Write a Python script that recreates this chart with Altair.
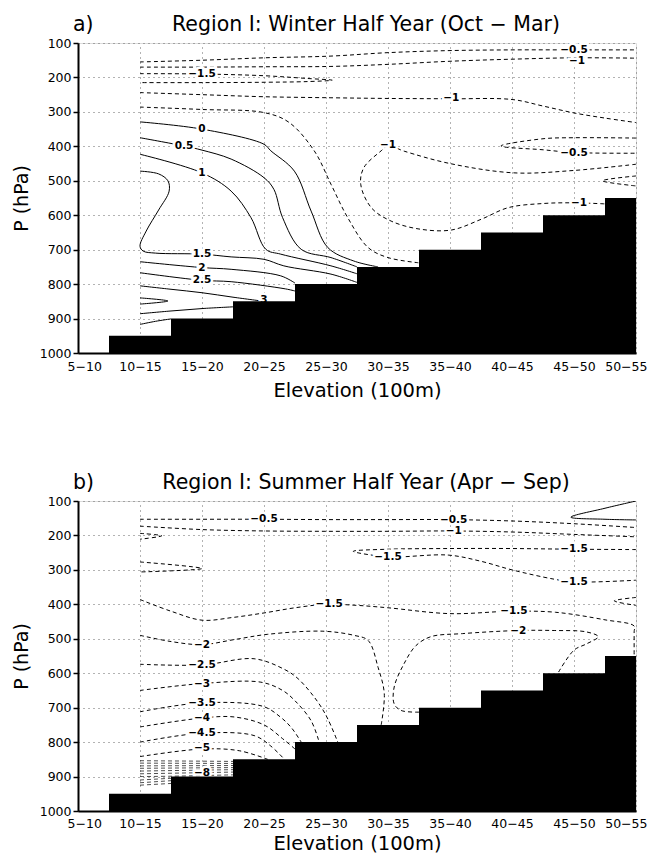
import json
import altair as alt
import pandas as pd

# ---------------- data ----------------
categories = ["5−10", "10−15", "15−20", "20−25", "25−30",
              "30−35", "35−40", "40−45", "45−50", "50−55"]
terrain_top = [1000, 950, 900, 850, 800, 750, 700, 650, 600, 550]
pressure_ticks = [100, 200, 300, 400, 500, 600, 700, 800, 900, 1000]

# contour lines: (id, value, points as (elevation index, hPa))
winter_solid = [
    ("w0", "0", [(1, 329), (2, 350), (3, 394), (3.11, 413), (3.49, 472), (3.76, 588), (4.03, 694), (4.45, 733), (4.84, 750)]),
    ("w05", "0.5", [(1, 375), (1.71, 399), (2, 411), (2.47, 437), (3.0, 491), (3.16, 525), (3.3, 607), (3.6, 699), (4.08, 723), (4.5, 750)]),
    ("w1", "1", [(1, 423), (2, 477), (2.47, 530), (2.79, 607), (3.03, 699), (3.27, 713), (4.08, 747), (4.5, 770)]),
    ("w15", "1.5", [(1, 472), (1.3, 480), (1.45, 500), (1.47, 530), (1.3, 585), (1.1, 646), (1.0, 690), (1.05, 704), (1.25, 710), (2, 713), (2.47, 721), (3.0, 728), (3.32, 747), (4.08, 771), (4.5, 795)]),
    ("w2", "2", [(1, 735), (2, 752), (2.47, 757), (3.27, 776), (3.5, 797)]),
    ("w25", "2.5", [(1, 767), (2, 789), (2.47, 793), (3.35, 814), (3.5, 820)]),
    ("w3", "3", [(1, 805), (1.5, 815), (2, 825), (2.5, 838), (3.0, 850)]),
    ("w35", "3.5", [(1, 840), (1.45, 849), (1, 858)]),
    ("w3b", "3", [(1, 886), (1.5, 878), (2, 871), (2.5, 866)]),
    ("w25b", "2.5", [(1, 917), (1.25, 908), (1.5, 901)]),
]
winter_dashed = [
    ("wm05a", "-0.5", [(1, 155), (2, 150), (3, 143), (4.08, 138), (5, 128), (6, 122), (7, 120), (8, 120), (9, 120)]),
    ("wm1a", "-1", [(1, 170), (2, 170), (3, 169), (4.08, 168), (5, 162), (6, 153), (7, 147), (8, 143), (9, 144)]),
    ("wm15a", "-1.5", [(1, 189), (2, 190), (3, 195), (3.7, 203), (4.1, 208), (3.7, 212), (3, 214), (2, 215), (1, 215)]),
    ("wm1b", "-1", [(1, 244), (2, 250), (3, 256), (4.08, 259), (5, 261), (6, 262), (7, 264), (7.5, 283), (8, 303), (8.5, 318), (9, 331)]),
    ("wm05b", "-0.5", [(1, 286), (2, 293), (3, 302), (3.4, 330), (3.81, 413), (4.08, 510), (4.35, 607), (4.68, 694), (5.0, 723), (5.49, 738)]),
    ("wm1c", "-1", [(9, 452), (8, 470), (7.03, 477), (6, 450), (5.26, 414), (5.0, 398), (4.89, 413), (4.61, 462), (4.56, 510), (4.73, 578), (5.05, 617), (5.5, 640), (6.02, 643), (6.5, 612), (6.94, 578), (7.5, 566), (8.0, 564), (8.49, 567)]),
    ("wm05c", "-0.5", [(9, 376), (8, 375), (7.5, 378), (6.82, 399), (7.5, 410), (8, 418), (9, 420)]),
    ("wm15c", "-1.5", [(9, 486), (8.46, 500), (9, 515)]),
]
winter_fine = []
winter_labels = [
    ("−0.5", 8.0, 120), ("−1", 8.05, 153), ("−1.5", 2.0, 190), ("−1", 6.02, 260),
    ("0", 2.0, 350), ("0.5", 1.71, 399), ("1", 2.0, 477), ("−1", 5.0, 396),
    ("−0.5", 8.0, 418), ("−1", 8.08, 564), ("1.5", 2.0, 713), ("2", 2.0, 752),
    ("2.5", 2.0, 789), ("3", 3.0, 845),
]

summer_solid = [
    ("s0", "0", [(9, 100), (8.5, 121), (7.95, 147), (8.5, 153), (9, 155)]),
]
summer_dashed = [
    ("sm05", "-0.5", [(1, 153), (2, 153), (3, 153), (4, 154), (5, 154), (6, 154), (7, 158), (8, 166), (9, 177)]),
    ("sm1", "-1", [(1, 173), (2, 183), (3, 187), (4, 188), (5, 188), (6, 187), (7, 190), (8, 197), (9, 204)]),
    ("sm15a", "-1.5", [(1, 194), (1.35, 201), (1, 211)]),
    ("sm15b", "-1.5", [(1, 277), (2, 296), (1, 306)]),
    ("sm15c", "-1.5", [(9, 241), (8, 240), (7, 238), (6, 238), (5, 240), (4.44, 246), (5.0, 262), (5.97, 257), (6.5, 275), (7.0, 300), (7.68, 327), (8.0, 335), (9, 330)]),
    ("sm15d", "-1.5", [(1, 386), (1.5, 420), (2, 446), (2.5, 438), (3, 425), (3.5, 410), (4, 400), (4.5, 403), (5, 410), (6, 427), (7, 420), (7.7, 423), (8.5, 445), (8.97, 463), (8.97, 480), (8.97, 550)]),
    ("sm15e", "-1.5", [(9, 380), (8.65, 390), (9, 403)]),
    ("sm2a", "-2", [(1, 490), (1.5, 508), (2, 517), (2.5, 503), (3.06, 487), (3.95, 478), (4.45, 490), (4.68, 505), (4.84, 583), (4.94, 659), (4.89, 750)]),
    ("sm2b", "-2", [(5.5, 713), (5.21, 708), (5.1, 689), (5.1, 640), (5.26, 572), (5.45, 520), (5.69, 494), (6.2, 485), (7.1, 476), (7.68, 476), (8.2, 480), (8.39, 494), (8.2, 515), (8.0, 533), (7.74, 600)]),
    ("sm25", "-2.5", [(1, 574), (2, 576), (2.84, 558), (3.32, 588), (3.55, 616), (3.87, 684), (4.03, 733), (4.19, 800)]),
    ("sm3", "-3", [(1, 650), (2, 630), (2.95, 626), (3.3, 650), (3.5, 680), (3.76, 738), (3.89, 800)]),
    ("sm35", "-3.5", [(1, 712), (2, 686), (2.98, 696), (3.27, 728), (3.45, 760), (3.6, 800)]),
    ("sm4", "-4", [(1, 756), (2, 730), (2.52, 727), (3.0, 750), (3.3, 790), (3.5, 820)]),
    ("sm45", "-4.5", [(1, 800), (2, 774), (2.84, 781), (3.1, 810), (3.33, 850)]),
    ("sm5", "-5", [(1, 842), (2, 820), (2.6, 825), (3.06, 850)]),
]
# closely packed contours near the ground in the summer panel
summer_fine = [
    ("sm55", "-5.5", [(1, 854), (2.5, 856)]),
    ("sm6", "-6", [(1, 861), (2.5, 862)]),
    ("sm65", "-6.5", [(1, 869), (2.5, 868)]),
    ("sm7", "-7", [(1, 876), (2.5, 874)]),
    ("sm75", "-7.5", [(1, 884), (2.5, 880)]),
    ("sm8", "-8", [(1, 892), (2.5, 887)]),
    ("sm85", "-8.5", [(1, 900), (1.5, 899), (2.5, 895)]),
    ("sm9", "-9", [(1, 910), (1.5, 905)]),
    ("sm95", "-9.5", [(1, 918), (1.5, 912)]),
    ("sm10", "-10", [(1, 925), (1.5, 920)]),
]
summer_labels = [
    ("−0.5", 3.0, 153), ("−0.5", 6.06, 154), ("−1", 6.06, 187), ("−1.5", 5.0, 262),
    ("−1.5", 8.0, 240), ("−1.5", 8.0, 335), ("−1.5", 4.05, 400), ("−1.5", 7.03, 420),
    ("−2", 7.1, 476), ("−2", 2.0, 517), ("−2.5", 2.0, 576), ("−3", 2.0, 630),
    ("−3.5", 2.0, 686), ("−4", 2.0, 730), ("−4.5", 2.0, 774), ("−5", 2.0, 818),
    ("−8", 2.0, 890),
]

FONT = "DejaVu Sans"


def lines_df(contours):
    rows = []
    for cid, val, pts in contours:
        for k, (x, p) in enumerate(pts):
            rows.append({"cid": cid, "value": val, "order": k, "x": x, "p": p})
    return pd.DataFrame(rows, columns=["cid", "value", "order", "x", "p"])


n_cat = len(categories)
terrain_df = pd.DataFrame({
    "x": [i - 0.5 for i in range(1, n_cat)],
    "x2": [min(i + 0.5, n_cat - 1) for i in range(1, n_cat)],
    "top": terrain_top[1:],
    "bottom": [1000] * (n_cat - 1),
})

label_expr = json.dumps(categories, ensure_ascii=False) + "[datum.value]"


def x_axis(label_pad, title_pad):
    return alt.Axis(values=list(range(n_cat)), labelExpr=label_expr,
                    labelFlush=True, labelFlushOffset=11, labelOverlap=False,
                    title="Elevation (100m)", grid=True,
                    gridDash=[1, 4], gridColor="#666", gridWidth=1,
                    ticks=False, labelPadding=label_pad, titlePadding=title_pad,
                    labelFont=FONT, labelFontSize=12.5,
                    titleFont=FONT, titleFontSize=19.5,
                    titleFontWeight="normal", labelColor="black",
                    titleColor="black", domainColor="black",
                    domainWidth=2)


def y_axis():
    return alt.Axis(values=pressure_ticks, format="d", title="P (hPa)", grid=True,
                    gridDash=[1, 4], gridColor="#666", gridWidth=1,
                    tickSize=5, tickColor="black", tickWidth=1.5,
                    labelPadding=2, titlePadding=8,
                    labelFont=FONT, labelFontSize=12.5,
                    titleFont=FONT, titleFontSize=19,
                    titleFontWeight="normal", labelColor="black",
                    titleColor="black", domainColor="black",
                    domainWidth=2)


def x_scale():
    return alt.Scale(domain=[0, n_cat - 1], nice=False, zero=False)


def y_scale():
    return alt.Scale(domain=[100, 1000], reverse=True, nice=False, zero=False)


def panel(letter, title, solid, dashed, fine, labels, label_pad, title_pad):
    sdf = lines_df(solid)
    ddf = lines_df(dashed)
    fdf = lines_df(fine)
    ldf = pd.DataFrame(labels, columns=["text", "x", "p"])
    tdf = pd.DataFrame({"t": [letter], "title": [title]})
    X = alt.X("x:Q", scale=x_scale(), axis=x_axis(label_pad, title_pad))
    Y = alt.Y("p:Q", scale=y_scale(), axis=y_axis())

    solid_layer = alt.Chart(sdf).mark_line(
        color="black", strokeWidth=1, interpolate="catmull-rom", clip=True
    ).encode(x=X, y=Y, detail="cid:N", order="order:Q")
    dashed_layer = alt.Chart(ddf).mark_line(
        color="black", strokeWidth=1, interpolate="catmull-rom", clip=True,
        strokeDash=[4, 3]
    ).encode(x=X, y=Y, detail="cid:N", order="order:Q")
    layers = [solid_layer, dashed_layer]
    if len(fdf):
        layers.append(alt.Chart(fdf).mark_line(
            color="black", strokeWidth=0.7, interpolate="catmull-rom", clip=True,
            strokeDash=[4, 3]
        ).encode(x=X, y=Y, detail="cid:N", order="order:Q"))
    halo = alt.Chart(ldf).mark_text(
        font=FONT, fontSize=10.5, fontWeight="bold", color="white",
        stroke="white", strokeWidth=5, baseline="middle"
    ).encode(x=X, y=Y, text="text:N")
    text = alt.Chart(ldf).mark_text(
        font=FONT, fontSize=10.5, fontWeight="bold", color="black", baseline="middle"
    ).encode(x=X, y=Y, text="text:N")
    terrain = alt.Chart(terrain_df).mark_rect(color="black", clip=True).encode(
        x=alt.X("x:Q", scale=x_scale(), axis=x_axis(label_pad, title_pad)),
        x2="x2:Q",
        y=alt.Y("top:Q", scale=y_scale(), axis=y_axis()),
        y2="bottom:Q")
    letter_mark = alt.Chart(tdf).mark_text(
        font=FONT, fontSize=20.5, align="left", baseline="top", color="black"
    ).encode(x=alt.value(-5), y=alt.value(-28), text="t:N")
    title_mark = alt.Chart(tdf).mark_text(
        font=FONT, fontSize=20.5, align="center", baseline="top", color="black"
    ).encode(x=alt.value(288), y=alt.value(-28), text="title:N")

    layers += [halo, text, terrain, letter_mark, title_mark]
    return alt.layer(*layers).properties(width=558, height=310)


top = panel("a)", "Region I: Winter Half Year (Oct − Mar)",
            winter_solid, winter_dashed, winter_fine, winter_labels, 7, 9)
bottom = panel("b)", "Region I: Summer Half Year (Apr − Sep)",
               summer_solid, summer_dashed, summer_fine, summer_labels, 6, 5)

chart = alt.vconcat(top, bottom, spacing=71).properties(
    padding={"left": 3, "right": 0, "top": 6, "bottom": 0}
).configure_view(
    stroke="black", strokeWidth=2
).configure(background="white")

chart.save("out.html", embed_options={"renderer": "svg", "actions": False})
